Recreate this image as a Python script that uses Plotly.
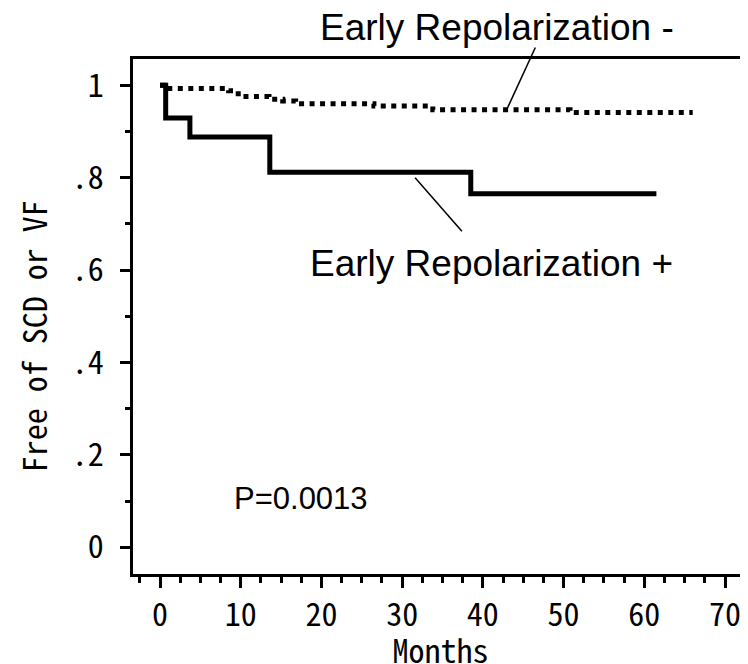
import plotly.graph_objects as go

# ---- data ----
months_pos = [0, 0.7, 3.7, 13.6, 38.5, 61.5]
surv_pos = [1.0, 0.929, 0.888, 0.812, 0.765, 0.765]

months_neg = [0, 0.5, 8.5, 9.3, 10.0, 13.5, 15.2, 16.8, 26.5, 33.8, 50.8, 66.0]
surv_neg = [1.0, 0.993, 0.988, 0.982, 0.976, 0.970, 0.966, 0.960, 0.955, 0.947, 0.941, 0.941]

x_ticks = [0, 10, 20, 30, 40, 50, 60, 70]
y_ticks = [0, 0.2, 0.4, 0.6, 0.8, 1.0]
y_ticktext = ["0", ".2", ".4", ".6", ".8", "1"]

label_neg = "Early Repolarization -"
label_pos = "Early Repolarization +"
p_text = "P=0.0013"

X_RANGE = [-3.35, 72.85]
Y_RANGE = [-0.058, 1.057]

MONO = "Noto Sans Mono CJK JP, Noto Sans Mono CJK SC, DejaVu Sans Mono, monospace"
SANS = "Liberation Sans, Arial, sans-serif"


def px(m):
    return (m - X_RANGE[0]) / (X_RANGE[1] - X_RANGE[0])


def py(v):
    return (v - Y_RANGE[0]) / (Y_RANGE[1] - Y_RANGE[0])


fig = go.Figure()
fig.add_trace(go.Scatter(
    x=months_neg, y=surv_neg, mode="lines", line_shape="hv",
    line=dict(color="black", width=5, dash="5px,5.5px"),
    showlegend=False, hoverinfo="skip"))
fig.add_trace(go.Scatter(
    x=months_pos, y=surv_pos, mode="lines", line_shape="hv",
    line=dict(color="black", width=5),
    showlegend=False, hoverinfo="skip"))

# pointer lines (paper coordinates derived from data positions)
pointers = [((43.0, 0.949), (46.5, 1.082)), ((31.6, 0.800), (37.4, 0.684))]
for (m0, v0), (m1, v1) in pointers:
    fig.add_shape(type="line", xref="paper", yref="paper",
                  x0=px(m0), y0=py(v0), x1=px(m1), y1=py(v1),
                  line=dict(color="black", width=1.5))

fig.add_annotation(text=label_neg, xref="paper", yref="paper",
                   x=px(41.7), y=py(1.125), showarrow=False,
                   xanchor="center", yanchor="middle",
                   font=dict(family=SANS, size=37, color="black"))
fig.add_annotation(text=label_pos, xref="paper", yref="paper",
                   x=px(41.1), y=py(0.614), showarrow=False,
                   xanchor="center", yanchor="middle",
                   font=dict(family=SANS, size=37, color="black"))
fig.add_annotation(text=p_text, xref="paper", yref="paper",
                   x=px(17.5), y=py(0.106), showarrow=False,
                   xanchor="center", yanchor="middle",
                   font=dict(family=SANS, size=31, color="black"))
fig.add_annotation(text="Free of SCD or VF", xref="paper", yref="paper",
                   x=(33 - 133) / 615, y=(574 - 336) / 515.5, showarrow=False,
                   textangle=-90, xanchor="center", yanchor="middle",
                   font=dict(family=MONO, size=32, color="black"))

# the page body adds an 8px offset; margins compensate so the plot box
# lands at the reference position in the 748x664 window
fig.update_layout(
    width=748, height=664,
    margin=dict(l=125, r=8, t=50.5, b=98, autoexpand=False),
    paper_bgcolor="white", plot_bgcolor="white",
    xaxis=dict(
        range=X_RANGE, tickvals=x_ticks, showgrid=False, zeroline=False,
        showline=True, linecolor="black", linewidth=3, mirror=True,
        ticks="outside", ticklen=11, tickwidth=2.5, tickcolor="black",
        minor=dict(dtick=2.5, tick0=0, ticks="outside", ticklen=6,
                   tickwidth=2.5, tickcolor="black", showgrid=False),
        tickfont=dict(family=MONO, size=32, color="black"),
        automargin=False,
        title=dict(text="Months", standoff=8,
                   font=dict(family=MONO, size=32, color="black")),
    ),
    yaxis=dict(
        range=Y_RANGE, tickvals=y_ticks, ticktext=y_ticktext,
        showgrid=False, zeroline=False,
        showline=True, linecolor="black", linewidth=2.5,
        ticks="outside", ticklen=10, tickwidth=2.5, tickcolor="black",
        minor=dict(dtick=0.1, tick0=0, ticks="outside", ticklen=5,
                   tickwidth=2.5, tickcolor="black", showgrid=False),
        tickfont=dict(family=MONO, size=32, color="black"),
        ticklabelstandoff=10, automargin=False,
    ),
)

fig.write_html("out.html")
